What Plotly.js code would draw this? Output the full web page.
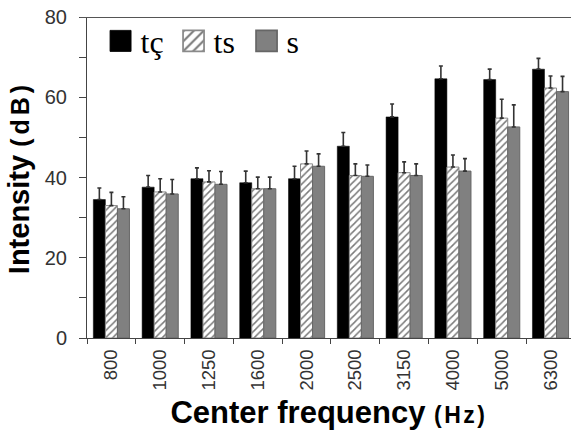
<!DOCTYPE html>
<html>
<head>
<meta charset="utf-8">
<script src="https://cdn.plot.ly/plotly-3.0.1.min.js"></script>
<style>html,body{margin:0;padding:0;background:#fff;}#chart{width:571px;height:434px;}</style>
</head>
<body>
<div id="chart"></div>
<script>
const categories = ["800","1000","1250","1600","2000","2500","3150","4000","5000","6300"];
const tcValues = [34.5, 37.6, 39.7, 38.7, 39.7, 47.8, 55.1, 64.6, 64.4, 67.0];
const tcErr    = [2.9, 2.9, 2.7, 2.9, 3.1, 3.4, 3.2, 3.2, 2.6, 2.7];
const tsValues = [33.0, 36.4, 38.9, 37.2, 43.4, 40.5, 41.2, 42.6, 54.8, 62.3];
const tsErr    = [3.3, 3.3, 2.8, 2.9, 3.2, 2.9, 2.7, 3.0, 4.7, 3.0];
const sValues  = [32.2, 35.9, 38.3, 37.2, 42.8, 40.3, 40.5, 41.6, 52.6, 61.4];
const sErr     = [3.0, 3.6, 3.2, 2.9, 3.1, 2.8, 2.9, 3.1, 5.5, 3.8];
const seriesNames = ["tç", "ts", "s"];
const yTickVals = [0, 10, 20, 30, 40, 50, 60, 70, 80];
const yTickText = ["0", "", "20", "", "40", "", "60", "", "80"];

function errBar(arr) {
  return {type: "data", array: arr, arrayminus: arr.map(() => 0), symmetric: false,
          color: "#333", thickness: 1.6, width: 2};
}

const traces = [
  {type: "bar", name: seriesNames[0], x: categories, y: tcValues, error_y: errBar(tcErr),
   marker: {color: "#000000", line: {color: "#000", width: 0.5}}},
  {type: "bar", name: seriesNames[1], x: categories, y: tsValues, error_y: errBar(tsErr),
   marker: {color: "#ffffff", line: {color: "#8a8a8a", width: 1},
            pattern: {shape: "/", fgcolor: "#7a7a7a", bgcolor: "#ffffff", size: 5, solidity: 0.3}}},
  {type: "bar", name: seriesNames[2], x: categories, y: sValues, error_y: errBar(sErr),
   marker: {color: "#808080", line: {color: "#666", width: 1}}}
];

const layout = {
  width: 571, height: 434,
  margin: {l: 87, r: 0, t: 17, b: 96},
  paper_bgcolor: "#fff", plot_bgcolor: "#fff",
  barmode: "group", bargap: 0.26, bargroupgap: 0,
  showlegend: true,
  legend: {orientation: "h", x: 0.028, xanchor: "left", y: 0.925, yanchor: "middle",
           font: {family: "Liberation Serif, Times New Roman, serif", size: 32, color: "#000"},
           bgcolor: "rgba(0,0,0,0)", entrywidth: 28, entrywidthmode: "pixels", traceorder: "normal"},
  xaxis: {type: "category", range: [-0.5, 9.42], showgrid: false, zeroline: false,
          showline: true, linecolor: "#444", linewidth: 1,
          ticks: "outside", tickson: "boundaries", ticklen: 5, tickcolor: "#444", tickwidth: 1,
          tickangle: -90, ticklabelstandoff: 3,
          tickfont: {family: "Liberation Sans, Arial, sans-serif", size: 18.5, color: "#333"},
          title: {text: "<b>Center frequency <span style='font-size:23px;letter-spacing:2.5px'>(Hz)</span></b>",
                  font: {family: "Liberation Sans, Arial, sans-serif", size: 31, color: "#000"}, standoff: 11},
          automargin: false, fixedrange: true},
  yaxis: {range: [0, 80], showgrid: false, zeroline: false,
          showline: true, linecolor: "#444", linewidth: 1,
          tickmode: "array", tickvals: yTickVals, ticktext: yTickText,
          ticks: "outside", ticklen: 7, tickcolor: "#444", tickwidth: 1, ticklabelstandoff: 8,
          tickfont: {family: "Liberation Sans, Arial, sans-serif", size: 20, color: "#333"},
          title: {text: "<b>Intensity <span style='font-size:25px;letter-spacing:4px'>(dB)</span></b>",
                  font: {family: "Liberation Sans, Arial, sans-serif", size: 29, color: "#000"}, standoff: 6},
          automargin: false, fixedrange: true},
  shapes: [{type: "line", xref: "paper", yref: "y", x0: -0.0145, x1: 1, y0: 80, y1: 80,
            line: {color: "#555", width: 2}}]
};

Plotly.newPlot("chart", traces, layout, {displayModeBar: false, staticPlot: true}).then(function () {
  document.querySelectorAll("#chart .legendpoints path").forEach(function (p) {
    const old = p.getAttribute("transform") || "";
    p.setAttribute("transform", old + " scale(1.75)");
  });
});
</script>
</body>
</html>
